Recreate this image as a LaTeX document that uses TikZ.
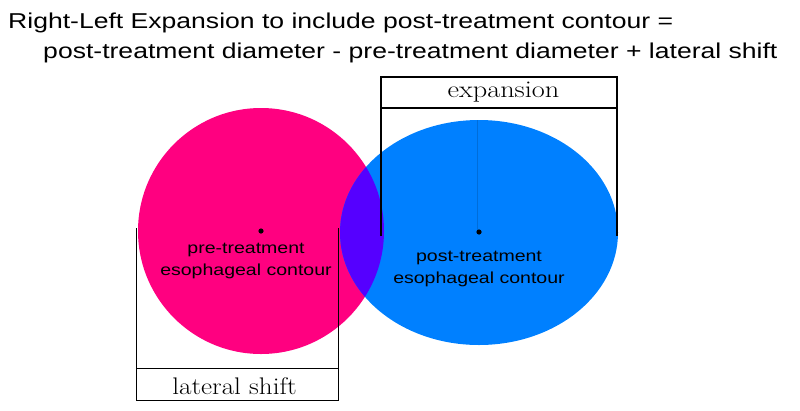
\documentclass[tikz,border=0pt]{standalone}
\usepackage{fontspec}
\setsansfont{Liberation Sans}
\definecolor{pinkc}{RGB}{255,0,128}
\definecolor{bluec}{RGB}{0,128,255}
\definecolor{purplec}{RGB}{85,0,255}
\begin{document}
\begin{tikzpicture}[x=1pt,y=-1pt,
  thickbr/.style={line width=2.5pt,black},
  thinbr/.style={line width=0.9pt,black},
  lbl/.style={font=\sffamily\fontsize{16}{21.5}\selectfont,align=center,inner sep=0,xscale=1.22,anchor=base},
  brlbl/.style={font=\fontsize{24}{28}\selectfont,inner sep=0,anchor=base},
  ttl/.style={font=\sffamily\fontsize{21.5}{26}\selectfont,anchor=base west,inner sep=0,xscale=1.235}]
\useasboundingbox (0,0) rectangle (800,410);
% shapes
\fill[pinkc] (261,231) circle (123);
\fill[bluec] (479,232.5) ellipse (139 and 112.5);
\begin{scope}
  \clip (261,231) circle (123);
  \fill[purplec] (479,232.5) ellipse (139 and 112.5);
\end{scope}
\draw[bluec!85!black,line width=0.4pt] (477,120) -- (477,232);
% centers
\fill (261,231) circle (2.6);
\fill (479,232) circle (2.6);
% title
\node[ttl] (t1) at (8,28) {Right-Left Expansion to include post-treatment contour =};
\node[ttl] (t2) at (43,58) {post-treatment diameter - pre-treatment diameter + lateral shift};
% labels
\node[lbl] (pre) at (246,275) {pre-treatment\\esophageal contour};
\node[lbl] (post) at (479,283) {post-treatment\\esophageal contour};
% expansion bracket
\coordinate (e1) at (381,236);
\coordinate (e2) at (381,77);
\coordinate (e3) at (617,77);
\coordinate (e4) at (617,236);
\coordinate (e5) at (381,108);
\coordinate (e6) at (617,108);
\draw[thickbr] (e1) -- (e2) -- (e3) -- (e4);
\draw[thickbr] (e5) -- (e6);
\node[brlbl,xscale=1.18] (exp) at (503.5,97) {expansion};
% lateral shift bracket
\coordinate (l1) at (136,228);
\coordinate (l2) at (136,400);
\coordinate (l3) at (338,400);
\coordinate (l4) at (338,228);
\coordinate (l5) at (136,368);
\coordinate (l6) at (338,368);
\draw[thinbr] (l1) -- (l2) -- (l3) -- (l4);
\draw[thinbr] (l5) -- (l6);
\node[brlbl,xscale=1.13] (lat) at (234.5,394) {lateral shift};
\end{tikzpicture}
\end{document}
